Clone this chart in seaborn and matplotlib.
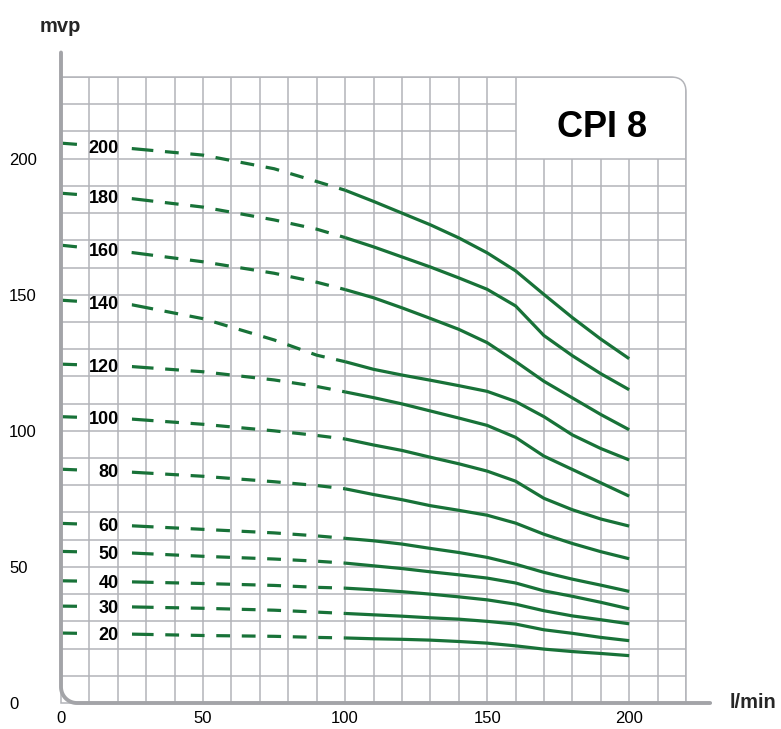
import numpy as np
import pandas as pd
import matplotlib
matplotlib.use("Agg")
import matplotlib.pyplot as plt
import seaborn as sns
from matplotlib.path import Path
from matplotlib.patches import PathPatch

# ---------------- data ----------------
curve_labels = ["200", "180", "160", "140", "120", "100", "80", "60", "50", "40", "30", "20"]

x_dashed = [0, 25, 50, 75, 90, 100]
x_solid = [100, 110, 120, 130, 140, 150, 160, 170, 180, 190, 200]

h200_dashed = [205.7, 203.7, 201.3, 196.3, 191.6, 188.4]
h180_dashed = [187.3, 185.3, 182.2, 177.5, 174.1, 171.0]
h160_dashed = [168.2, 165.5, 162.1, 157.9, 154.6, 151.9]
h140_dashed = [148.0, 146.3, 141.2, 133.4, 127.8, 125.4]
h120_dashed = [124.5, 123.6, 121.7, 118.7, 116.3, 114.3]
h100_dashed = [105.2, 104.3, 102.4, 100.0, 98.3, 97.0]
h80_dashed = [85.9, 84.8, 83.3, 81.3, 79.9, 78.7]
h60_dashed = [66.0, 65.1, 63.8, 62.5, 61.4, 60.5]
h50_dashed = [55.7, 55.1, 53.9, 52.9, 52.1, 51.4]
h40_dashed = [44.9, 44.5, 43.9, 43.2, 42.5, 42.2]
h30_dashed = [35.6, 35.3, 34.8, 34.1, 33.4, 32.9]
h20_dashed = [25.7, 25.3, 24.8, 24.5, 24.1, 23.9]

h200_solid = [188.4, 184.3, 180.0, 175.7, 170.9, 165.4, 158.8, 150.1, 141.6, 133.7, 126.5]
h180_solid = [171.0, 167.6, 163.9, 160.2, 156.2, 152.0, 145.9, 135.0, 127.6, 121.0, 115.1]
h160_solid = [151.9, 148.9, 145.2, 141.3, 137.3, 132.4, 125.5, 118.2, 112.1, 106.0, 100.4]
h140_solid = [125.4, 122.6, 120.5, 118.6, 116.6, 114.5, 110.8, 105.2, 98.5, 93.5, 89.3]
h120_solid = [114.3, 112.2, 109.9, 107.3, 104.7, 102.0, 97.6, 90.7, 85.8, 80.9, 76.0]
h100_solid = [97.0, 94.8, 92.8, 90.3, 87.9, 85.2, 81.5, 75.2, 71.0, 67.6, 65.0]
h80_solid = [78.7, 76.6, 74.7, 72.5, 70.8, 69.0, 66.1, 62.0, 58.6, 55.6, 53.0]
h60_solid = [60.5, 59.6, 58.4, 56.8, 55.3, 53.5, 51.0, 48.0, 45.5, 43.3, 41.0]
h50_solid = [51.4, 50.4, 49.4, 48.2, 47.1, 45.9, 44.1, 41.2, 39.2, 37.0, 34.6]
h40_solid = [42.2, 41.6, 40.9, 40.0, 39.0, 37.9, 36.3, 33.9, 32.0, 30.6, 29.1]
h30_solid = [32.9, 32.4, 31.9, 31.3, 30.8, 30.0, 29.0, 26.9, 25.6, 24.1, 22.9]
h20_solid = [23.9, 23.6, 23.4, 23.1, 22.6, 22.0, 21.0, 19.8, 18.9, 18.2, 17.4]

x_ticks = [0, 50, 100, 150, 200]
y_ticks = [0, 50, 100, 150, 200]
x_title = "l/min"
y_title = "mvp"
model_name = "CPI 8"

dashed_sets = [h200_dashed, h180_dashed, h160_dashed, h140_dashed, h120_dashed, h100_dashed,
               h80_dashed, h60_dashed, h50_dashed, h40_dashed, h30_dashed, h20_dashed]
solid_sets = [h200_solid, h180_solid, h160_solid, h140_solid, h120_solid, h100_solid,
              h80_solid, h60_solid, h50_solid, h40_solid, h30_solid, h20_solid]

dashed_df = pd.concat([pd.DataFrame({"x": x_dashed, "y": ys, "curve": lab})
                       for lab, ys in zip(curve_labels, dashed_sets)], ignore_index=True)
solid_df = pd.concat([pd.DataFrame({"x": x_solid, "y": ys, "curve": lab})
                      for lab, ys in zip(curve_labels, solid_sets)], ignore_index=True)

# ---------------- style ----------------
sns.set_style("white")
plt.rcParams["font.family"] = ["Liberation Sans", "DejaVu Sans"]
plt.rcParams["lines.scale_dashes"] = False

GREEN = "#187238"
GRID = "#b3b4b9"
SPINE = "#a3a4a8"
LW = 2.3

W, H = 781, 729
fig = plt.figure(figsize=(W / 100, H / 100), dpi=100)
ax = fig.add_axes([61 / W, 26 / H, 625 / W, 626 / H])
ax.set_xlim(0, 220)
ax.set_ylim(0, 230)
for s in ax.spines.values():
    s.set_visible(False)
ax.grid(False)

# clip path with a rounded top-right corner (axes coordinates)
r = 0.024
clip_path = Path([(0, 0), (1, 0), (1, 1 - r), (1, 1), (1 - r, 1), (0, 1), (0, 0)],
                 [Path.MOVETO, Path.LINETO, Path.LINETO, Path.CURVE3, Path.CURVE3,
                  Path.LINETO, Path.CLOSEPOLY])
clip_patch = PathPatch(clip_path, transform=ax.transAxes, facecolor="none", edgecolor="none")

# grid, leaving the title box empty
box_x0, box_y0 = 160, 200
xmax, ymax = 220, 230
gx = np.arange(10, xmax + 1, 10)
gy = np.arange(10, ymax + 1, 10)
gx_full = [v for v in gx if not (box_x0 < v < xmax)]
gx_short = [v for v in gx if box_x0 < v < xmax]
gy_full = [v for v in gy if not (box_y0 < v < ymax)]
gy_short = [v for v in gy if box_y0 < v < ymax]
for coll in [ax.vlines(gx_full, 0, ymax, color=GRID, lw=1.1, zorder=1),
             ax.vlines(gx_short, 0, box_y0, color=GRID, lw=1.1, zorder=1),
             ax.hlines(gy_full, 0, xmax, color=GRID, lw=1.1, zorder=1),
             ax.hlines(gy_short, 0, box_x0, color=GRID, lw=1.1, zorder=1)]:
    coll.set_clip_path(clip_patch)
outline = PathPatch(clip_path, transform=ax.transAxes, facecolor="none",
                    edgecolor=GRID, lw=1.1, zorder=1, clip_on=False)
ax.add_patch(outline)

# pump curves: solid operating range, dashed low-flow range
sns.lineplot(data=solid_df, x="x", y="y", units="curve", estimator=None, sort=False,
             color=GREEN, lw=LW, solid_capstyle="butt", ax=ax, zorder=3, legend=False)
n_before = len(ax.lines)
sns.lineplot(data=dashed_df, x="x", y="y", units="curve", estimator=None, sort=False,
             color=GREEN, lw=LW, ax=ax, zorder=3, legend=False)
px2pt = 0.72
dash_pattern = [16, 55, 21.6, 11.7] + [13.8, 11.7] * 9
for ln in ax.lines[n_before:]:
    ln.set_dashes([v * px2pt for v in dash_pattern])
    ln.set_dash_capstyle("butt")

# curve labels
for lab, ys in zip(curve_labels, dashed_sets):
    ly = np.interp(15, x_dashed, ys) - 0.6
    ax.text(20.4, ly, lab, ha="right", va="center", fontsize=13, fontweight="bold",
            color="black", zorder=4)

# model name in the top-right box
ax.text(190.5, 208, model_name, ha="center", va="baseline", fontsize=26,
        fontweight="bold", color="black", zorder=4)

# axis lines with a rounded bottom-left corner
rx, ry = 5.6, 5.9
t = np.linspace(0, np.pi / 2, 30)
sx = np.concatenate([[0], rx - rx * np.cos(t), [228.5]])
sy = np.concatenate([[239], ry - ry * np.sin(t), [0]])
ax.plot(sx, sy, color=SPINE, lw=2.8, solid_capstyle="round", solid_joinstyle="round",
        clip_on=False, zorder=5)

# ticks
ax.set_xticks(x_ticks)
ax.set_xticklabels([str(v) for v in x_ticks], fontsize=12)
ax.set_yticks(y_ticks)
ax.set_yticklabels([str(v) for v in y_ticks], fontsize=12, ha="left")
ax.tick_params(axis="x", length=0, pad=6, colors="black")
ax.tick_params(axis="y", length=0, pad=37.4, colors="black")
ax.set_xlabel("")
ax.set_ylabel("")

fig.text(40 / W, 1 - 31.7 / H, y_title, ha="left", va="baseline", fontsize=14.5,
         fontweight="bold")
fig.text(730 / W, 1 - 708 / H, x_title, ha="left", va="baseline", fontsize=14.5,
         fontweight="bold")

fig.savefig("out.png", dpi=100, facecolor="white")
